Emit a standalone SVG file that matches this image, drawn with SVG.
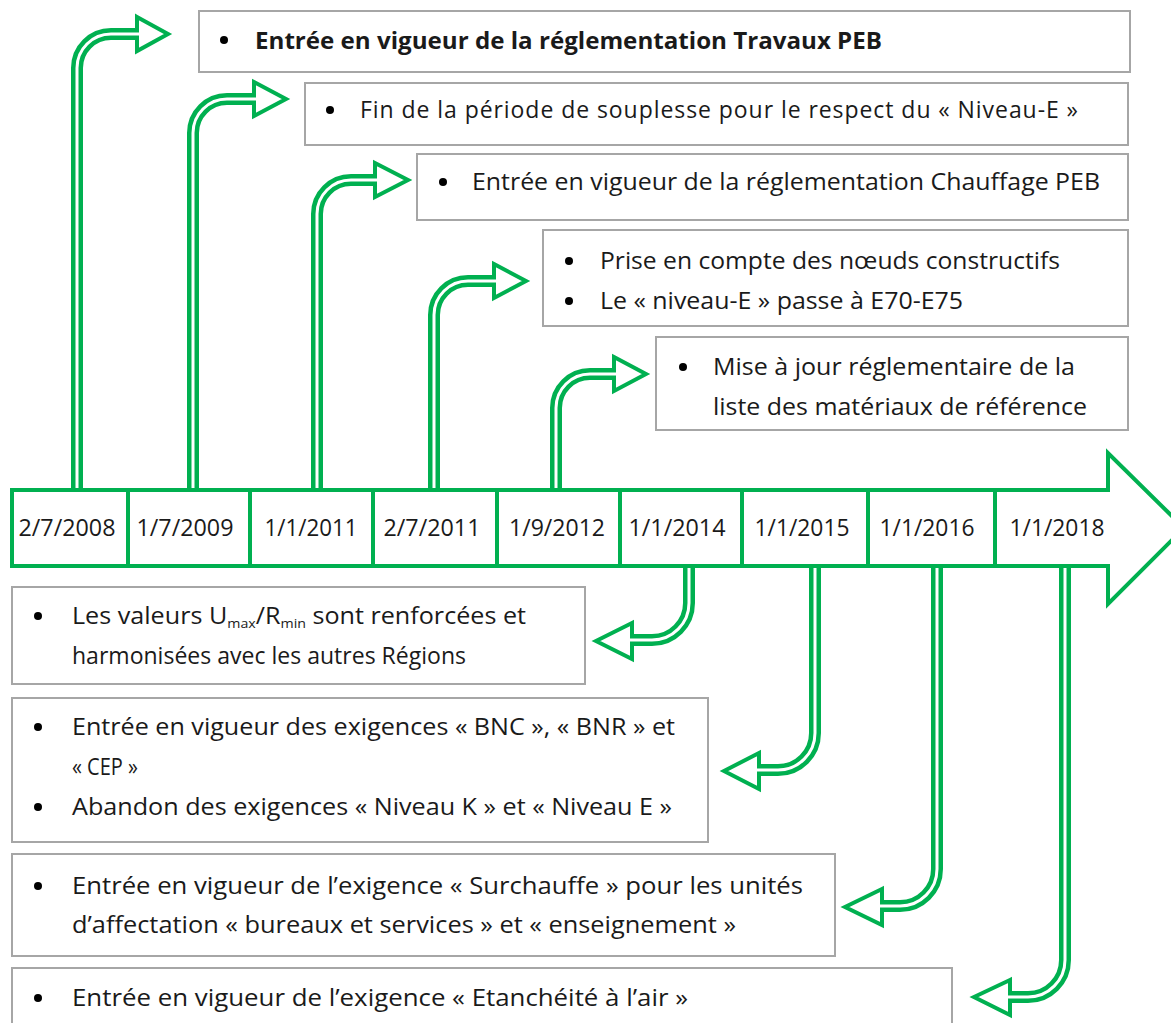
<svg xmlns="http://www.w3.org/2000/svg" width="1171" height="1023" viewBox="0 0 1171 1023">
<defs>
<style>
.box{fill:#fff;stroke:#a6a6a6;stroke-width:2}
.t{font-family:"Open Sans","Liberation Sans",sans-serif;font-size:23px;fill:#1a1a1a}
.b{font-weight:bold}
.d{font-family:"Open Sans","Liberation Sans",sans-serif;font-size:23px;fill:#1a1a1a;text-anchor:middle}
.bu{fill:#000}
.sh{fill:none;stroke:#00b050;stroke-width:12}
.shw{fill:none;stroke:#fff;stroke-width:3}
.hd{fill:#fff;stroke:#00b050;stroke-width:4;stroke-linejoin:miter}
.tl{fill:#fff;stroke:#00b050;stroke-width:4}
.dv{stroke:#00b050;stroke-width:4}
</style>
</defs>
<rect width="1171" height="1023" fill="#fff"/>

<g id="connectors">
  <path class="sh" d="M77,492 V68 A34,34 0 0 1 111,34 H137"/>
  <polygon class="hd" points="137,17 168,34 137,51"/>
  <path class="shw" d="M77,492 V68 A34,34 0 0 1 111,34 H140"/>

  <path class="sh" d="M193,492 V133 A34,34 0 0 1 227,99 H254"/>
  <polygon class="hd" points="254,82 286,99 254,116"/>
  <path class="shw" d="M193,492 V133 A34,34 0 0 1 227,99 H257"/>

  <path class="sh" d="M317,492 V214 A34,34 0 0 1 351,180 H375"/>
  <polygon class="hd" points="375,163 408,180 375,197"/>
  <path class="shw" d="M317,492 V214 A34,34 0 0 1 351,180 H378"/>

  <path class="sh" d="M434,492 V315 A34,34 0 0 1 468,281 H494"/>
  <polygon class="hd" points="494,264 526,281 494,298"/>
  <path class="shw" d="M434,492 V315 A34,34 0 0 1 468,281 H497"/>

  <path class="sh" d="M556,492 V408 A34,34 0 0 1 590,374 H614"/>
  <polygon class="hd" points="614,357 646,374 614,391"/>
  <path class="shw" d="M556,492 V408 A34,34 0 0 1 590,374 H617"/>

  <path class="sh" d="M689,564 V603 A37,37 0 0 1 652,640 H632"/>
  <polygon class="hd" points="632,623 596,641 632,659"/>
  <path class="shw" d="M689,564 V603 A37,37 0 0 1 652,640 H629"/>

  <path class="sh" d="M815,564 V733 A37,37 0 0 1 778,770 H759"/>
  <polygon class="hd" points="759,753 724,771 759,789"/>
  <path class="shw" d="M815,564 V733 A37,37 0 0 1 778,770 H756"/>

  <path class="sh" d="M937,564 V869 A37,37 0 0 1 900,906 H882"/>
  <polygon class="hd" points="882,889 845,907 882,925"/>
  <path class="shw" d="M937,564 V869 A37,37 0 0 1 900,906 H879"/>

  <path class="sh" d="M1065,564 V960 A37,37 0 0 1 1028,997 H1010"/>
  <polygon class="hd" points="1010,980 974,997 1010,1015"/>
  <path class="shw" d="M1065,564 V960 A37,37 0 0 1 1028,997 H1007"/>
</g>

<g id="timeline">
  <polygon class="tl" points="12,490 1108,490 1108,453 1184,528 1108,604 1108,566 12,566"/>
  <line class="dv" x1="128" y1="490" x2="128" y2="566"/>
  <line class="dv" x1="250" y1="490" x2="250" y2="566"/>
  <line class="dv" x1="373" y1="490" x2="373" y2="566"/>
  <line class="dv" x1="497" y1="490" x2="497" y2="566"/>
  <line class="dv" x1="620" y1="490" x2="620" y2="566"/>
  <line class="dv" x1="742" y1="490" x2="742" y2="566"/>
  <line class="dv" x1="868" y1="490" x2="868" y2="566"/>
  <line class="dv" x1="995" y1="490" x2="995" y2="566"/>
  <text class="d" x="67" y="536" textLength="97" lengthAdjust="spacingAndGlyphs">2/7/2008</text>
  <text class="d" x="185" y="536" textLength="97" lengthAdjust="spacingAndGlyphs">1/7/2009</text>
  <text class="d" x="311" y="536" textLength="93" lengthAdjust="spacingAndGlyphs">1/1/2011</text>
  <text class="d" x="432" y="536" textLength="97" lengthAdjust="spacingAndGlyphs">2/7/2011</text>
  <text class="d" x="557" y="536" textLength="96" lengthAdjust="spacingAndGlyphs">1/9/2012</text>
  <text class="d" x="677" y="536" textLength="97" lengthAdjust="spacingAndGlyphs">1/1/2014</text>
  <text class="d" x="802" y="536" textLength="95" lengthAdjust="spacingAndGlyphs">1/1/2015</text>
  <text class="d" x="927" y="536" textLength="95" lengthAdjust="spacingAndGlyphs">1/1/2016</text>
  <text class="d" x="1057" y="536" textLength="95" lengthAdjust="spacingAndGlyphs">1/1/2018</text>
</g>

<g id="box1">
  <rect class="box" x="199" y="11" width="931" height="61"/>
  <circle class="bu" cx="224" cy="40" r="4"/>
  <text class="t b" x="255" y="49" textLength="627" lengthAdjust="spacingAndGlyphs">Entrée en vigueur de la réglementation Travaux PEB</text>
</g>
<g id="box2">
  <rect class="box" x="305" y="83" width="823" height="62"/>
  <circle class="bu" cx="330" cy="110" r="4"/>
  <text class="t" x="360" y="118" textLength="718" lengthAdjust="spacing">Fin de la période de souplesse pour le respect du « Niveau-E »</text>
</g>
<g id="box3">
  <rect class="box" x="417" y="154" width="711" height="66"/>
  <circle class="bu" cx="443" cy="182" r="4"/>
  <text class="t" x="472" y="190" textLength="628" lengthAdjust="spacingAndGlyphs">Entrée en vigueur de la réglementation Chauffage PEB</text>
</g>
<g id="box4">
  <rect class="box" x="543" y="230" width="585" height="96"/>
  <circle class="bu" cx="569" cy="261" r="4"/>
  <text class="t" x="600" y="269" textLength="460" lengthAdjust="spacingAndGlyphs">Prise en compte des nœuds constructifs</text>
  <circle class="bu" cx="569" cy="301" r="4"/>
  <text class="t" x="600" y="309" textLength="363" lengthAdjust="spacingAndGlyphs">Le « niveau-E » passe à E70-E75</text>
</g>
<g id="box5">
  <rect class="box" x="656" y="337" width="472" height="93"/>
  <circle class="bu" cx="683" cy="367" r="4"/>
  <text class="t" x="713" y="375" textLength="362" lengthAdjust="spacingAndGlyphs">Mise à jour réglementaire de la</text>
  <text class="t" x="713" y="415" textLength="374" lengthAdjust="spacingAndGlyphs">liste des matériaux de référence</text>
</g>

<g id="box6">
  <rect class="box" x="12" y="587" width="573" height="97"/>
  <circle class="bu" cx="38" cy="616" r="4"/>
  <text class="t" x="72" y="624" textLength="454" lengthAdjust="spacingAndGlyphs">Les valeurs U<tspan font-size="13" dy="4">max</tspan><tspan dy="-4">/R</tspan><tspan font-size="13" dy="4">min</tspan><tspan dy="-4">  sont renforcées et</tspan></text>
  <text class="t" x="72" y="664" textLength="394" lengthAdjust="spacingAndGlyphs">harmonisées avec les autres Régions</text>
</g>
<g id="box7">
  <rect class="box" x="12" y="698" width="696" height="144"/>
  <circle class="bu" cx="38" cy="727" r="4"/>
  <text class="t" x="72" y="735" textLength="603" lengthAdjust="spacingAndGlyphs">Entrée en vigueur des exigences « BNC », « BNR » et</text>
  <text class="t" x="72" y="775" textLength="66" lengthAdjust="spacingAndGlyphs">« CEP »</text>
  <circle class="bu" cx="38" cy="807" r="4"/>
  <text class="t" x="72" y="815" textLength="600" lengthAdjust="spacingAndGlyphs">Abandon des exigences « Niveau K » et « Niveau E »</text>
</g>
<g id="box8">
  <rect class="box" x="12" y="854" width="823" height="102"/>
  <circle class="bu" cx="38" cy="886" r="4"/>
  <text class="t" x="72" y="894" textLength="731" lengthAdjust="spacingAndGlyphs">Entrée en vigueur de l’exigence « Surchauffe » pour les unités</text>
  <text class="t" x="72" y="933" textLength="664" lengthAdjust="spacingAndGlyphs">d’affectation « bureaux et services » et « enseignement »</text>
</g>
<g id="box9">
  <rect class="box" x="12" y="968" width="940" height="70"/>
  <circle class="bu" cx="38" cy="998" r="4"/>
  <text class="t" x="72" y="1006" textLength="616" lengthAdjust="spacingAndGlyphs">Entrée en vigueur de l’exigence « Etanchéité à l’air »</text>
</g>
</svg>
